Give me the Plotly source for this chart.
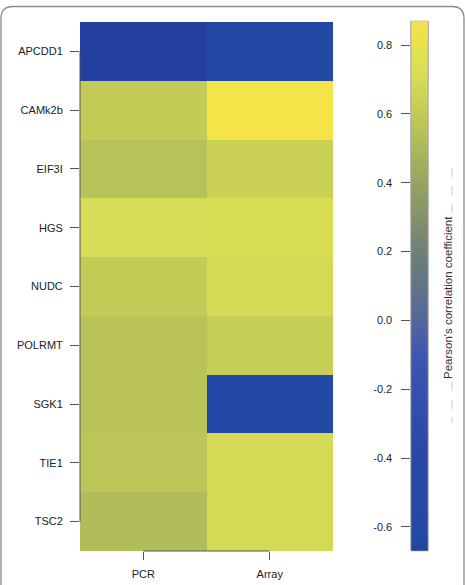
import numpy as np
import plotly.graph_objects as go

genes = ["APCDD1", "CAMk2b", "EIF3I", "HGS", "NUDC", "POLRMT", "SGK1", "TIE1", "TSC2"]
methods = ["PCR", "Array"]
pcr_values = [-0.67, 0.60, 0.55, 0.70, 0.60, 0.56, 0.56, 0.57, 0.52]
array_values = [-0.64, 0.87, 0.64, 0.72, 0.69, 0.62, -0.63, 0.69, 0.69]
cbar_tickvals = [-0.6, -0.4, -0.2, 0.0, 0.2, 0.4, 0.6, 0.8]
cbar_ticktext = ["-0.6", "-0.4", "-0.2", "0.0", "0.2", "0.4", "0.6", "0.8"]
cbar_title = "Pearson's correlation coefficient"

z = [[p, a] for p, a in zip(pcr_values, array_values)]
zmin = min(min(pcr_values), min(array_values))
zmax = max(max(pcr_values), max(array_values))

colorscale = [
    [0.00, "#24409e"],
    [0.02, "#2349a6"],
    [0.175, "#2a47a8"],
    [0.305, "#3450b0"],
    [0.383, "#4259ac"],
    [0.435, "#53679a"],
    [0.565, "#6f8076"],
    [0.695, "#98a362"],
    [0.790, "#b6c159"],
    [0.825, "#c3ca55"],
    [0.890, "#d6dc55"],
    [0.950, "#e6e250"],
    [1.00, "#f3e548"],
]

W, H = 465, 585
L, R, T, B = 80, 37, 21, 34
pw, ph = W - L - R, H - T - B

def px(x):
    return (x - L) / pw

def py(y):
    return (H - B - y) / ph

font = dict(family="Liberation Sans, Arial, sans-serif", size=11, color="#222222")

fig = go.Figure()
fig.add_trace(go.Heatmap(
    z=z, x=methods, y=genes,
    colorscale=colorscale, zmin=zmin, zmax=zmax,
    showscale=False, hoverinfo="skip",
    xaxis="x", yaxis="y",
))

# colour key drawn as a gradient heatmap on its own axes
grad = np.linspace(zmin, zmax, 300)
fig.add_trace(go.Heatmap(
    z=[[g] for g in grad], x=[0], y=grad,
    colorscale=colorscale, zmin=zmin, zmax=zmax,
    showscale=False, hoverinfo="skip",
    xaxis="x2", yaxis="y2",
))

fig.update_layout(
    xaxis=dict(domain=[0, px(333)], showline=False, showgrid=False, zeroline=False,
               ticks="outside", ticklen=8, tickcolor="#555555", tickwidth=1,
               tickfont=font, ticklabelstandoff=5, fixedrange=True),
    yaxis=dict(domain=[py(551), py(22)], autorange="reversed",
               showline=False, showgrid=False, zeroline=False,
               ticks="outside", ticklen=9, tickcolor="#555555", tickwidth=1,
               tickfont=font, ticklabelstandoff=5, fixedrange=True),
    xaxis2=dict(domain=[px(411), px(428)], anchor="y2", visible=False,
                range=[-0.5, 0.5], fixedrange=True),
    yaxis2=dict(domain=[py(551), py(21)], anchor="x2", side="left",
                range=[zmin, zmax], showgrid=False, zeroline=False,
                showline=True, linecolor="#999999", linewidth=0.6, mirror=True,
                tickvals=cbar_tickvals, ticktext=cbar_ticktext,
                ticks="outside", ticklen=9, tickcolor="#555555", tickwidth=1,
                tickfont=font, ticklabelstandoff=7, fixedrange=True),
)

shapes = []
# R-style axis lines spanning first to last tick
shapes.append(dict(type="line", xref="x domain", yref="y", x0=0, x1=0,
                   y0=0, y1=len(genes) - 1, line=dict(color="#555555", width=1)))
shapes.append(dict(type="line", xref="x", yref="y domain", y0=0, y1=0,
                   x0=0, x1=len(methods) - 1, line=dict(color="#555555", width=1)))
# outline on colour key
shapes.append(dict(type="rect", xref="x2 domain", yref="y2 domain", x0=0, x1=1, y0=0, y1=1,
                   line=dict(color="#aaaaaa", width=0.6)))

# rounded frame (open at the bottom)
xl, xr, yt, yb = px(1), px(464), py(6.5), py(586)
rx, ry = 12 / pw, 12 / ph
path = (f"M {xl},{yb} L {xl},{yt-ry} Q {xl},{yt} {xl+rx},{yt} "
        f"L {xr-rx},{yt} Q {xr},{yt} {xr},{yt-ry} L {xr},{yb}")
shapes.append(dict(type="path", xref="paper", yref="paper", path=path,
                   line=dict(color="#8a8a8a", width=1.3)))

# faint dashed guide lines beside colour key title
for y0, y1 in [(168, 214), (382, 423)]:
    shapes.append(dict(type="line", xref="paper", yref="paper",
                       x0=px(452), x1=px(452), y0=py(y0), y1=py(y1),
                       line=dict(color="#bbbbbb", width=0.8, dash="dash")))

fig.update_layout(
    width=W, height=H,
    margin=dict(l=L, r=R, t=T, b=B, autoexpand=False),
    paper_bgcolor="white", plot_bgcolor="white",
    shapes=shapes,
    annotations=[dict(text=cbar_title, textangle=-90, xref="paper", yref="paper",
                      x=px(448), y=py(298), showarrow=False,
                      xanchor="center", yanchor="middle",
                      font=dict(family="Liberation Sans, Arial, sans-serif", size=11.5, color="#333333"))],
)

fig.write_html("out.html", config={"displayModeBar": False, "staticPlot": True})
